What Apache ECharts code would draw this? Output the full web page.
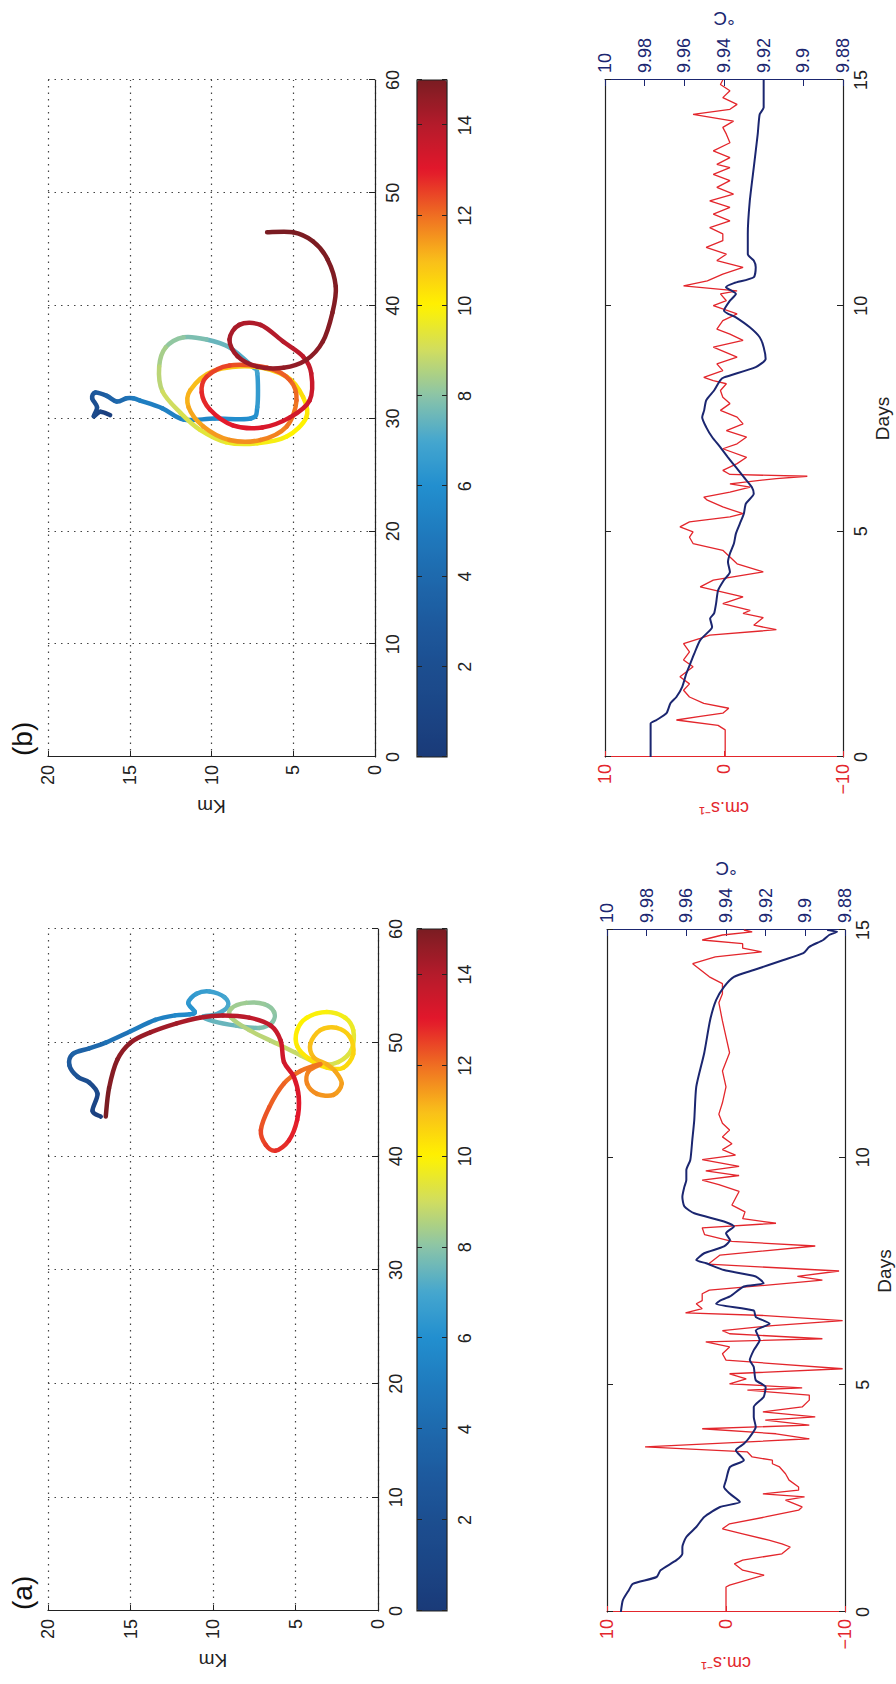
<!DOCTYPE html>
<html>
<head>
<meta charset="utf-8">
<script src="https://cdn.jsdelivr.net/npm/echarts@6/dist/echarts.min.js"></script>
<style>
  html, body { margin: 0; padding: 0; width: 896px; height: 1684px; overflow: hidden; background: #fff; }
  /* the figure is drawn landscape and turned a quarter turn */
  #wrap { position: absolute; left: 0; top: 0; width: 1684px; height: 896px;
          transform-origin: 0 0; transform: translate(0, 1684px) rotate(-90deg); }
  #chart { width: 1684px; height: 896px; }
</style>
</head>
<body>
<div id="wrap"><div id="chart"></div></div>
<script>
var FONT = '"Liberation Sans", Arial, Helvetica, sans-serif';

// colour scale of the tracks, one colour per day 0..15
var dayColors = ['#1a3a78', '#1b4585', '#1c4e90', '#1d5a9e', '#1e69ad', '#1f7bbe', '#228fcf', '#45a6cf',
                 '#8ac4a8', '#d0dd60', '#fff200', '#f9be1a', '#ef6e22', '#e3172b', '#b51b2b', '#7a1c22'];

// drifter tracks: [km east, km north, day]
var trackA = [
  [43.5,16.8,0],[44,17.3,0.5],[45.5,17.0,1],[46.5,17.5,1.5],[47,18.2,2],[48,18.7,2.5],[49,18.5,3],
  [49.5,17.5,3.5],[50,16.5,4],[51,15,4.5],[52,13.5,5],[52.4,12.3,5.3],[52.5,11.4,5.7],[52.7,11.1,6.0],
  [53.5,11.5,6.2],[54.3,11.0,6.4],[54.5,10.2,6.6],[54.0,9.3,6.8],[53.2,9.1,7.0],[52.5,9.8,7.1],
  [52.3,10.6,7.2],[51.9,10.0,7.35],[51.5,8.6,7.5],[51.3,7.2,7.7],[51.8,6.4,7.85],[52.7,6.3,8.0],
  [53.4,6.9,8.1],[53.5,8.0,8.2],[53.0,8.9,8.3],[52.2,8.9,8.4],[51.1,7.8,8.55],[49.9,6.1,8.7],
  [48.9,4.7,8.85],[48.1,3.5,9.0],[48.3,2.4,9.15],[49.4,1.6,9.3],[51.1,1.5,9.45],[52.2,2.0,9.6],
  [52.7,3.1,9.75],[52.2,4.3,9.9],[51.1,4.9,10.0],[49.7,4.9,10.1],[48.6,4.2,10.2],[47.8,3.1,10.3],
  [47.8,2.1,10.4],[49.0,1.5,10.5],[50.5,1.7,10.6],[51.3,2.5,10.7],[51.1,3.5,10.8],[49.9,4.1,10.9],
  [48.7,3.9,11.0],[48.1,3.1,11.1],[47.5,2.6,11.2],[46.4,2.2,11.3],[45.4,2.7,11.4],[45.5,3.7,11.5],
  [46.4,4.3,11.6],[47.5,4.2,11.7],[48.1,3.5,11.8],[47.5,4.7,11.9],[46.4,5.7,12.0],[44.3,6.6,12.15],
  [42.3,7.1,12.3],[41.0,6.8,12.45],[40.5,6.2,12.6],[41.4,5.4,12.75],[43.2,4.9,12.9],[45.2,4.8,13.0],
  [47.0,5.1,13.15],[48.3,5.7,13.3],[50.2,5.9,13.45],[51.5,6.5,13.6],[52.2,7.8,13.75],[52.4,9.4,13.9],
  [52.2,10.8,14.05],[51.7,12.2,14.2],[50.9,13.8,14.35],[50,15,14.5],[48.5,15.8,14.65],[46,16.3,14.8],
  [43.5,16.5,15]
];
var trackB = [
  [30.3,16.2,0],[30.6,16.8,0.5],[30.2,17.2,1],[31.0,17.0,1.5],[31.8,17.3,2],[32.3,17.1,2.5],[32.0,16.4,3],
  [31.5,15.8,3.5],[31.8,15.2,4],[31.8,14.8,4.5],[31.6,14.4,5],[30.9,13.0,5.15],[29.9,11.7,5.3],[30.0,9.8,5.6],
  [30.0,7.6,5.9],[31.0,7.2,6.1],[34.0,7.2,6.5],[34.6,7.5,6.9],[36.3,8.9,7.2],[37.0,10.3,7.5],[37.2,11.7,7.8],
  [36.3,12.8,8.1],[34.6,13.2,8.4],[32.4,13.0,8.7],[30.5,11.9,9.0],[29.0,10.7,9.2],[27.9,9.1,9.4],
  [27.8,7.2,9.6],[28.4,5.4,9.8],[30.1,4.2,10.0],[31.9,4.4,10.2],[33.7,5.4,10.4],[34.6,7.5,10.6],
  [34.2,9.9,10.8],[32.5,11.3,11.0],[31.0,11.4,11.15],[29.3,10.5,11.3],[28.1,8.9,11.45],[28.1,7.0,11.6],
  [29.3,5.4,11.75],[31.6,4.8,11.9],[33.4,5.2,12.05],[34.5,6.6,12.2],[34.7,8.9,12.35],[33.7,10.3,12.5],
  [32.3,10.6,12.65],[30.8,10.1,12.8],[29.4,8.7,12.95],[29.2,6.9,13.1],[30.1,5.2,13.25],[31.6,4.0,13.4],
  [34.0,3.9,13.55],[35.5,4.4,13.7],[36.8,5.6,13.85],[38.3,7.0,14.0],[38.3,8.3,14.1],[37.0,8.9,14.2],
  [35.5,8.4,14.3],[34.6,7.2,14.4],[34.5,5.6,14.5],[35.2,4.2,14.6],[36.8,3.2,14.7],[39.4,2.6,14.8],
  [41.7,2.4,14.85],[44.1,2.9,14.9],[45.7,3.8,14.95],[46.5,5.0,14.98],[46.5,6.6,15]
];

// current speed (cm/s) of drifter a
var redDaysA = [0,0.55,0.59,0.81,0.92,1.06,1.14,1.28,1.43,1.5,1.58,1.72,1.83,1.94,2.09,2.24,2.31,2.46,2.53,2.6,
  2.68,2.75,2.9,3.04,3.19,3.26,3.34,3.41,3.52,3.63,3.81,3.92,4.03,4.11,4.22,4.29,4.4,4.51,4.66,4.77,4.88,4.93,
  5.02,5.13,5.24,5.35,5.54,5.68,5.83,5.94,6.01,6.12,6.19,6.3,6.41,6.52,6.58,6.67,6.78,6.85,7.0,7.08,7.16,7.3,
  7.38,7.5,7.65,7.85,8.05,8.15,8.3,8.45,8.55,8.65,8.8,8.95,9.1,9.25,9.4,9.5,9.6,9.7,9.8,9.95,10.05,10.17,10.3,
  10.45,10.6,10.75,10.95,11.2,11.55,11.9,12.3,12.65,13.0,13.4,13.6,13.82,13.97,14.26,14.41,14.52,14.6,14.7,
  14.78,14.89,14.96,15];
var redA = [0,0,-0.3,-3.2,-1.4,-0.7,-1.4,-4.7,-5.4,-4.7,-3.6,-1.4,0.3,-0.3,-3.3,-6.1,-6.4,-5.0,-6.6,-3.1,
  -6.1,-6.1,-5.3,-5.0,-4.5,-3.9,-3.9,-2.2,-1.8,6.8,-7.0,-4.2,2.0,-7.0,-3.3,-7.5,-3.1,-6.4,-7.0,-7.0,-1.8,-6.4,
  -0.3,-1.7,-0.3,-9.8,0,0.3,-0.3,1.7,-8.1,-0.3,0.3,-3.9,-9.8,-3.3,3.4,2.0,2.5,2.0,2.0,1.4,-2.2,-8.1,
  -6.0,-9.5,1.5,0.5,-7.5,-0.5,1.8,2.0,-4.2,-1.4,-1.6,-0.5,-0.8,-1.1,0.6,2.0,-1.1,1.7,-1.1,2.0,-0.8,0.3,-0.5,
  0.3,-0.3,0.3,0.6,0.3,0,0.3,-0.3,0,0.3,0.6,0.3,0.3,1.4,2.8,0.9,-3.0,-1.4,-1.4,
  2.0,0.3,-2.2,-1.5];
// temperature (deg C) of drifter a
var blueDaysA = [0,0.26,0.48,0.62,0.77,0.92,1.14,1.28,1.43,1.65,1.87,2.09,2.31,2.42,2.6,2.75,2.9,3.19,3.34,3.56,
  3.7,3.85,4.07,4.29,4.51,4.73,4.95,5.1,5.39,5.54,5.76,5.98,6.19,6.34,6.49,6.63,6.78,6.85,6.94,7.16,7.23,7.38,
  7.52,7.67,7.74,7.89,8.04,8.18,8.33,8.48,8.59,8.77,8.92,9.13,9.35,9.5,9.72,9.94,10.38,10.82,11.55,12.29,13.02,
  13.46,13.75,13.97,14.12,14.34,14.49,14.63,14.78,14.89,14.96,15];
var blueA = [9.993,9.992,9.989,9.987,9.975,9.973,9.965,9.962,9.962,9.96,9.955,9.951,9.943,9.933,9.938,9.941,9.94,
  9.938,9.931,9.935,9.931,9.928,9.925,9.926,9.926,9.921,9.92,9.925,9.926,9.928,9.926,9.923,9.925,9.918,9.925,
  9.926,9.945,9.943,9.938,9.931,9.921,9.925,9.941,9.95,9.955,9.951,9.941,9.938,9.94,9.936,9.941,9.956,9.961,
  9.962,9.961,9.96,9.96,9.958,9.957,9.956,9.955,9.951,9.948,9.945,9.941,9.936,9.926,9.911,9.901,9.898,9.891,
  9.888,9.884,9.889];

// current speed (cm/s) of drifter b
var redDaysB = [0,0.6,0.7,0.82,0.9,0.97,1.08,1.19,1.33,1.48,1.62,1.78,2.0,2.15,2.33,2.51,2.63,2.7,2.82,2.92,3.09,
  3.18,3.25,3.4,3.55,3.77,3.92,4.1,4.28,4.43,4.58,4.73,4.87,4.99,5.1,5.21,5.32,5.39,5.54,5.69,5.76,5.87,5.98,
  6.05,6.17,6.22,6.26,6.35,6.5,6.64,6.83,6.94,7.09,7.23,7.38,7.53,7.68,7.83,7.97,8.12,8.27,8.34,8.41,8.56,8.71,
  8.86,9.08,9.23,9.37,9.48,9.67,9.82,10.0,10.11,10.26,10.33,10.44,10.55,10.7,10.85,11.0,11.14,11.29,11.44,
  11.59,11.73,11.88,12.03,12.18,12.32,12.47,12.62,12.77,12.91,13.06,13.13,13.28,13.43,13.61,13.8,13.95,14.09,
  14.24,14.35,14.46,14.61,14.76,14.9,15];
var redB = [-0.1,-0.1,0.5,4.0,2.0,0.1,-0.4,1.7,2.9,3.4,2.9,3.7,2.6,3.4,2.9,3.4,2.0,1.2,-4.4,-2.5,-3.3,
  -1.6,-2.2,0.1,-1.6,2.0,0.9,-3.3,-1.1,-0.5,0.1,2.6,2.9,2.6,3.7,2.9,-0.5,-1.6,0.1,1.4,1.7,-0.5,-2.2,
  -0.5,-4.4,-7.0,-0.5,0.1,-1.1,-1.9,0.1,-1.1,-1.9,-0.2,-1.6,-1.1,0.3,-0.5,0.1,0.3,-0.2,0.9,1.7,0.1,0.6,
  -1.1,0.9,-1.6,-0.5,0.6,0.1,-1.1,0.9,-0.2,0.3,-1.1,3.4,1.4,0.1,-1.6,0.6,-0.2,1.5,0.1,
  0.1,1.2,-0.5,0.9,-0.5,1.2,-0.8,0.6,-0.5,0.9,-0.5,0.6,-0.5,0.9,-0.5,-0.2,0.1,-0.8,
  2.6,-0.5,-1.1,0.1,-0.5,0.3,0.1];
// temperature (deg C) of drifter b
var blueDaysB = [0,0.74,0.82,0.97,1.19,1.33,1.56,1.85,2.07,2.29,2.59,2.81,2.88,3.07,3.18,3.4,3.69,3.92,4.1,4.32,
  4.51,4.73,4.95,5.17,5.39,5.61,5.83,5.98,6.2,6.42,6.64,6.87,7.09,7.31,7.53,7.68,7.9,8.12,8.34,8.41,8.64,8.82,
  9.08,9.3,9.52,9.74,9.89,10.11,10.26,10.41,10.5,10.63,10.85,11.0,11.14,11.59,12.32,13.06,13.8,14.24,14.39,15];
var blueB = [9.977,9.977,9.974,9.969,9.967,9.964,9.961,9.959,9.957,9.955,9.952,9.947,9.946,9.947,9.945,9.944,9.943,
  9.94,9.937,9.938,9.937,9.935,9.934,9.932,9.93,9.929,9.925,9.926,9.93,9.934,9.938,9.942,9.946,9.949,9.951,9.95,
  9.949,9.945,9.942,9.94,9.924,9.919,9.92,9.922,9.927,9.934,9.94,9.937,9.934,9.939,9.935,9.925,9.924,9.925,
  9.928,9.928,9.927,9.925,9.923,9.922,9.92,9.92];

var RED = '#e3262c';
var NAVY = '#1b2670';
var INK = '#222';

function zip(xs, ys) {
  return xs.map(function (d, i) { return [d, ys[i]]; });
}
function minus(v) {
  return String(v).replace('-', '\u2212');
}

// each item draws the piece of track that leads to it, in its day colour,
// as a Catmull-Rom curve through its neighbours so the track stays smooth
function segmentRenderer(track) {
  return function (params, api) {
    var i = params.dataIndex;
    if (i === 0) return;
    var n = track.length;
    var p0 = api.coord(track[Math.max(i - 2, 0)]);
    var p1 = api.coord(track[i - 1]);
    var p2 = api.coord([api.value(0), api.value(1)]);
    var p3 = api.coord(track[Math.min(i + 1, n - 1)]);
    return {
      type: 'bezierCurve',
      shape: {
        x1: p1[0], y1: p1[1], x2: p2[0], y2: p2[1],
        cpx1: p1[0] + (p2[0] - p0[0]) / 6, cpy1: p1[1] + (p2[1] - p0[1]) / 6,
        cpx2: p2[0] - (p3[0] - p1[0]) / 6, cpy2: p2[1] - (p3[1] - p1[1]) / 6
      },
      style: { stroke: api.visual('color'), fill: null, lineWidth: 4.5, lineCap: 'round' }
    };
  };
}

var labelStyle = { fontSize: 18, color: INK, fontFamily: FONT };
var dotted = { show: true, lineStyle: { type: [1.5, 5], color: '#444', width: 1.2 } };

function kmXAxis(gi) {
  return {
    gridIndex: gi, type: 'value', min: 0, max: 60, interval: 10,
    axisLine: { show: true, onZero: false, lineStyle: { color: INK, width: 1.2 } },
    axisTick: { show: true, inside: true, length: 6, lineStyle: { color: INK } },
    axisLabel: Object.assign({ margin: 9 }, labelStyle),
    splitLine: dotted
  };
}
function kmYAxis(gi) {
  return {
    gridIndex: gi, type: 'value', min: 0, max: 20, interval: 5,
    name: 'Km', nameLocation: 'middle', nameGap: 40, nameRotate: 90,
    nameTextStyle: { fontSize: 19, color: INK, fontFamily: FONT },
    axisLine: { show: true, onZero: false, lineStyle: { color: INK, width: 1.2 } },
    axisTick: { show: true, inside: true, length: 6, lineStyle: { color: INK } },
    axisLabel: Object.assign({ margin: 8 }, labelStyle),
    splitLine: dotted
  };
}
function barXAxis(gi, pos) {
  return {
    gridIndex: gi, type: 'value', position: pos, min: 0, max: 15, interval: 2, z: 10,
    axisLine: { show: false },
    axisTick: { show: true, inside: true, length: 5, lineStyle: { color: INK } },
    axisLabel: Object.assign({ show: pos === 'bottom', margin: 9,
      formatter: function (v) { return (v === 0 || v === 15) ? '' : v; } }, labelStyle),
    splitLine: { show: false }
  };
}
function barYAxis(gi) {
  return { gridIndex: gi, type: 'value', min: 0, max: 1, show: false };
}
function dayXAxis(gi, pos) {
  return {
    gridIndex: gi, type: 'value', position: pos, min: 0, max: 15, interval: 5,
    name: pos === 'bottom' ? 'Days' : '', nameLocation: 'middle', nameGap: 30,
    nameTextStyle: { fontSize: 19, color: INK, fontFamily: FONT },
    axisLine: { show: true, onZero: false, lineStyle: { color: INK, width: 1.2 } },
    axisTick: { show: true, inside: true, length: 6, lineStyle: { color: INK } },
    axisLabel: Object.assign({ show: pos === 'bottom', margin: 9 }, labelStyle),
    splitLine: { show: false }
  };
}
function speedAxis(gi) {
  return {
    gridIndex: gi, type: 'value', position: 'left', min: -10, max: 10, interval: 10,
    name: 'cm.s\u207b\u00b9', nameLocation: 'middle', nameGap: 42, nameRotate: 90,
    nameTextStyle: { fontSize: 18, color: RED, fontFamily: FONT },
    axisLine: { show: true, onZero: false, lineStyle: { color: RED, width: 1.2 } },
    axisTick: { show: true, inside: true, length: 6, lineStyle: { color: RED } },
    axisLabel: { margin: 7, fontSize: 18, color: RED, fontFamily: FONT, formatter: minus },
    splitLine: { show: false }
  };
}
function tempAxis(gi) {
  return {
    gridIndex: gi, type: 'value', position: 'right', min: 9.88, max: 10, interval: 0.02,
    name: '\u00b0C', nameLocation: 'middle', nameGap: 52, nameRotate: 90,
    nameTextStyle: { fontSize: 19, color: NAVY, fontFamily: FONT },
    axisLine: { show: true, onZero: false, lineStyle: { color: NAVY, width: 1.2 } },
    axisTick: { show: true, inside: true, length: 6, lineStyle: { color: NAVY } },
    axisLabel: { margin: 7, fontSize: 18, color: NAVY, fontFamily: FONT,
      formatter: function (v) { return String(+v.toFixed(2)); } },
    splitLine: { show: false }
  };
}
function colourBar(seriesIndex, left, length) {
  return {
    type: 'continuous', min: 0, max: 15, dimension: 2, seriesIndex: seriesIndex,
    orient: 'horizontal', left: left, top: 417, itemWidth: 30, itemHeight: length,
    calculable: false, hoverLink: false, padding: 0, inRange: { color: dayColors }
  };
}

var option = {
  animation: false,
  backgroundColor: '#fff',
  title: [
    { text: '(a)', left: 74, top: 8, padding: 0, textStyle: { fontSize: 28, fontWeight: 'normal', color: '#111', fontFamily: FONT } },
    { text: '(b)', left: 928, top: 8, padding: 0, textStyle: { fontSize: 28, fontWeight: 'normal', color: '#111', fontFamily: FONT } }
  ],
  grid: [
    { left: 73, top: 48, width: 682, height: 330, outerBoundsMode: 'none' },
    { left: 927, top: 48, width: 677, height: 327, outerBoundsMode: 'none' },
    { left: 73, top: 417, width: 682, height: 30, show: true, borderColor: INK, borderWidth: 1.2, z: 10, outerBoundsMode: 'none' },
    { left: 927, top: 417, width: 677, height: 30, show: true, borderColor: INK, borderWidth: 1.2, z: 10, outerBoundsMode: 'none' },
    { left: 72, top: 607, width: 682, height: 238, outerBoundsMode: 'none' },
    { left: 927, top: 605, width: 677, height: 238, outerBoundsMode: 'none' }
  ],
  xAxis: [
    kmXAxis(0), kmXAxis(1),
    barXAxis(2, 'bottom'), barXAxis(2, 'top'), barXAxis(3, 'bottom'), barXAxis(3, 'top'),
    dayXAxis(4, 'bottom'), dayXAxis(4, 'top'), dayXAxis(5, 'bottom'), dayXAxis(5, 'top')
  ],
  yAxis: [
    kmYAxis(0), kmYAxis(1), barYAxis(2), barYAxis(3),
    speedAxis(4), tempAxis(4), speedAxis(5), tempAxis(5)
  ],
  visualMap: [colourBar(0, 73, 682), colourBar(1, 927, 677)],
  series: [
    { type: 'custom', xAxisIndex: 0, yAxisIndex: 0, data: trackA, encode: { x: 0, y: 1 },
      renderItem: segmentRenderer(trackA), clip: true, z: 3 },
    { type: 'custom', xAxisIndex: 1, yAxisIndex: 1, data: trackB, encode: { x: 0, y: 1 },
      renderItem: segmentRenderer(trackB), clip: true, z: 3 },
    { type: 'line', xAxisIndex: 6, yAxisIndex: 4, data: zip(redDaysA, redA), symbol: 'none',
      lineStyle: { color: RED, width: 1.3 }, z: 3 },
    { type: 'line', xAxisIndex: 6, yAxisIndex: 5, data: zip(blueDaysA, blueA), symbol: 'none', smooth: 0.2,
      lineStyle: { color: NAVY, width: 2 }, z: 4 },
    { type: 'line', xAxisIndex: 8, yAxisIndex: 6, data: zip(redDaysB, redB), symbol: 'none',
      lineStyle: { color: RED, width: 1.3 }, z: 3 },
    { type: 'line', xAxisIndex: 8, yAxisIndex: 7, data: zip(blueDaysB, blueB), symbol: 'none', smooth: 0.2,
      lineStyle: { color: NAVY, width: 2 }, z: 4 },
    // empty series so the colour bar and mirrored axes get drawn
    { type: 'line', xAxisIndex: 2, yAxisIndex: 2, data: [] },
    { type: 'line', xAxisIndex: 3, yAxisIndex: 2, data: [] },
    { type: 'line', xAxisIndex: 4, yAxisIndex: 3, data: [] },
    { type: 'line', xAxisIndex: 5, yAxisIndex: 3, data: [] },
    { type: 'line', xAxisIndex: 7, yAxisIndex: 4, data: [] },
    { type: 'line', xAxisIndex: 9, yAxisIndex: 6, data: [] }
  ]
};

var myChart = echarts.init(document.getElementById('chart'), null, { renderer: 'svg' });
myChart.setOption(option);
</script>
</body>
</html>
